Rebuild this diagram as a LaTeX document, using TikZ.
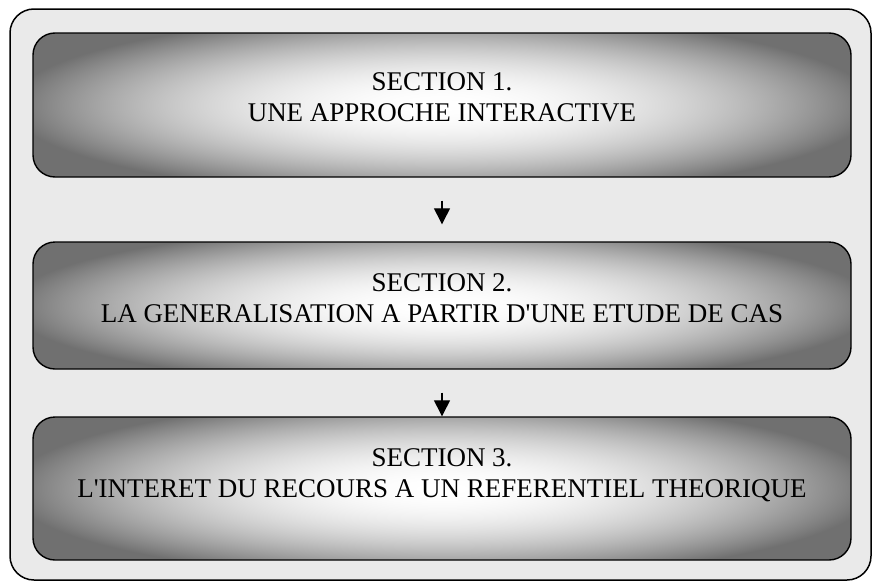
\documentclass[tikz,border=0pt]{standalone}
\usepackage{fontspec}
\setmainfont{Liberation Serif}
\usetikzlibrary{arrows.meta}
\pgfdeclarefunctionalshading{boxshade}{\pgfpoint{-50bp}{-50bp}}{\pgfpoint{50bp}{50bp}}{}{
 dup mul 0.00056 mul exch dup mul 0.0008 mul add neg 1 add dup 0.44 lt {pop 0.44} if dup 1 gt {pop 1} if dup dup
}
\definecolor{framefill}{RGB}{234,234,234}
\begin{document}
\begin{tikzpicture}[x=1pt,y=-1pt,
 sectbox/.style={draw=black, line width=1.4pt, rounded corners=22pt, shading=boxshade, minimum width=818pt, inner sep=0pt},
 secttext/.style={font=\fontsize{27}{31}\selectfont, align=center, text=black, inner sep=0pt},
 flowarrow/.style={-{Triangle[width=16pt,length=16pt]}, line width=1.3pt}]
\useasboundingbox (0,0) rectangle (873,581);
\node[draw=black, line width=1.5pt, fill=framefill, rounded corners=24pt, minimum width=861pt, minimum height=571pt, inner sep=0pt] (frame) at (440.5,294.5) {};
\node[sectbox, minimum height=144pt] (b1) at (442,105) {};
\node[sectbox, minimum height=127pt] (b2) at (442,305.5) {};
\node[sectbox, minimum height=143pt] (b3) at (442,488.5) {};
\node[secttext] (t1) at (442,97) {SECTION 1.\\UNE APPROCHE INTERACTIVE};
\node[secttext] (t2) at (442,298) {SECTION 2.\\LA GENERALISATION A PARTIR D\textquotesingle UNE ETUDE DE CAS};
\node[secttext] (t3) at (442,475) {SECTION 3.\\L\textquotesingle INTERET DU RECOURS A UN REFERENTIEL THEORIQUE};
\draw[flowarrow, shorten <=23pt, shorten >=17pt] (b1.south) -- (b2.north);
\draw[flowarrow, shorten <=23pt] (b2.south) -- (b3.north);
\end{tikzpicture}
\end{document}
